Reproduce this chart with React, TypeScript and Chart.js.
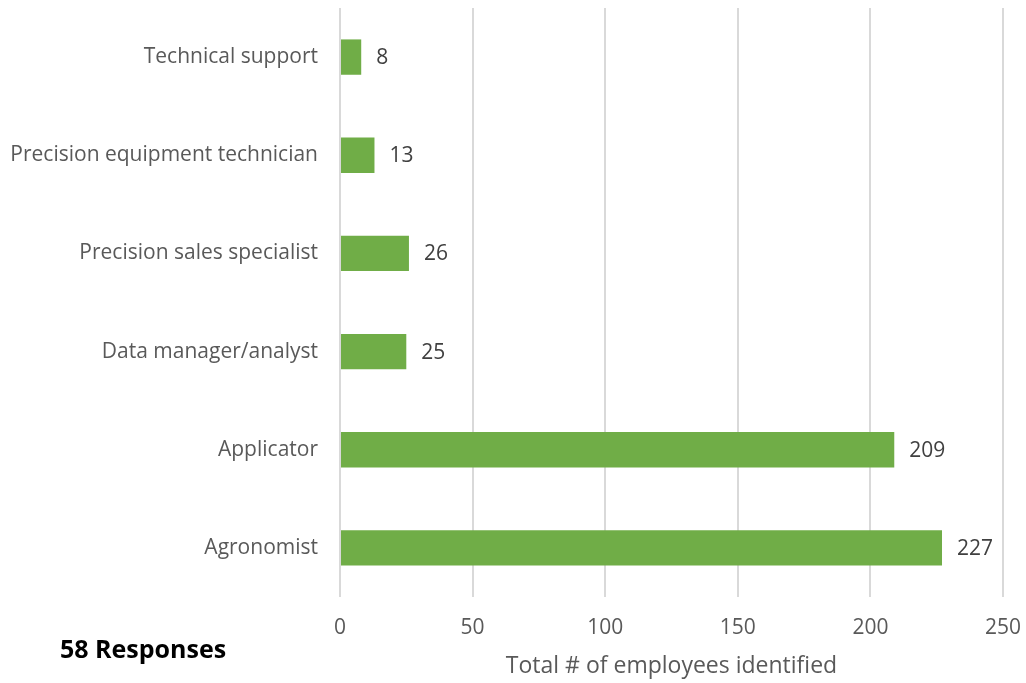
import React, { useEffect, useRef } from "react";
import { Chart, registerables } from "chart.js";

Chart.register(...registerables);

const categories = [
  "Technical support",
  "Precision equipment technician",
  "Precision sales specialist",
  "Data manager/analyst",
  "Applicator",
  "Agronomist",
];
const employees = [8, 13, 26, 25, 209, 227];
const xTicks = [0, 50, 100, 150, 200, 250];
const axisTitle = "Total # of employees identified";
const responsesNote = "58 Responses";

const FONT = "'Open Sans', sans-serif";

const valueLabels = {
  id: "valueLabels",
  afterDatasetsDraw(chart: any) {
    const ctx = chart.ctx;
    const meta = chart.getDatasetMeta(0);
    ctx.save();
    ctx.font = `21px ${FONT}`;
    ctx.fillStyle = "#404040";
    ctx.textAlign = "left";
    ctx.textBaseline = "middle";
    meta.data.forEach((bar: any, i: number) => {
      ctx.fillText(String(employees[i]), bar.x + 15, bar.y + 1);
    });
    ctx.restore();
  },
};

export default function App() {
  const ref = useRef<HTMLCanvasElement | null>(null);

  useEffect(() => {
    document.body.style.margin = "0";
    if (!ref.current) return;
    const chart = new Chart(ref.current, {
      type: "bar",
      data: {
        labels: categories,
        datasets: [
          {
            data: employees,
            backgroundColor: "#70ad47",
            borderWidth: 0,
            categoryPercentage: 1,
            barPercentage: 0.36,
          },
        ],
      },
      options: {
        indexAxis: "y",
        animation: false,
        responsive: false,
        maintainAspectRatio: false,
        layout: { padding: { top: 8, right: 23, left: 0, bottom: 0 } },
        plugins: {
          legend: { display: false },
          tooltip: { enabled: false },
        },
        scales: {
          x: {
            min: 0,
            max: 250,
            afterBuildTicks(scale: any) {
              scale.ticks = xTicks.map((v) => ({ value: v }));
            },
            afterFit(scale: any) {
              scale.height = 86;
              scale.paddingLeft = 0;
              scale.paddingRight = 0;
            },
            grid: { color: "#d9d9d9", lineWidth: 2, drawTicks: false },
            border: { display: false },
            ticks: {
              padding: 18,
              color: "#595959",
              font: { family: FONT, size: 21 },
            },
            title: {
              display: true,
              text: axisTitle,
              color: "#595959",
              font: { family: FONT, size: 23 },
              padding: { top: 4, bottom: 3 },
            },
          },
          y: {
            afterFit(scale: any) {
              scale.width = 340;
              scale.paddingTop = 0;
              scale.paddingBottom = 0;
            },
            grid: { display: false, drawTicks: false },
            border: { display: false },
            ticks: {
              padding: 22,
              color: "#595959",
              font: { family: FONT, size: 21 },
            },
          },
        },
      },
      plugins: [valueLabels],
    });
    return () => chart.destroy();
  }, []);

  return (
    <div style={{ position: "relative", width: 1026, height: 683 }}>
      <canvas ref={ref} width={1026} height={683} style={{ display: "block" }} />
      <div
        style={{
          position: "absolute",
          left: 60,
          top: 632,
          fontFamily: FONT,
          fontWeight: 700,
          fontSize: 25,
          color: "#000",
          lineHeight: "32px",
          whiteSpace: "nowrap",
        }}
      >
        {responsesNote}
      </div>
    </div>
  );
}
